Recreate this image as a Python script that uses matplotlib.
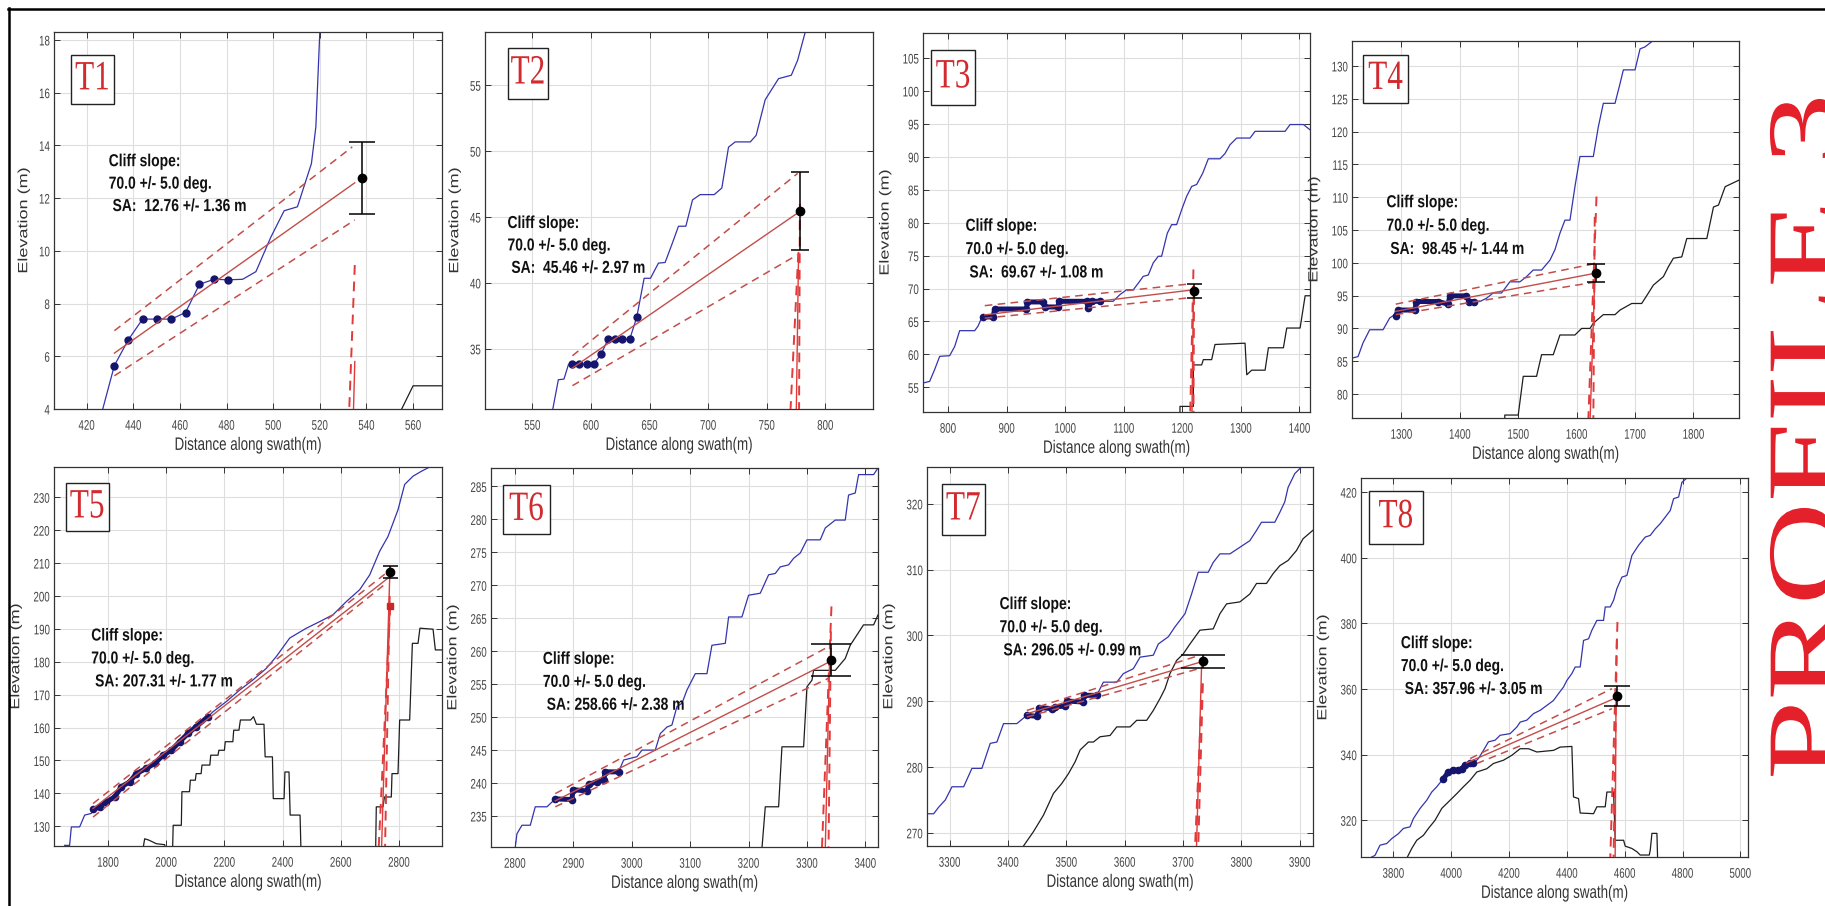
import matplotlib
matplotlib.use('Agg')
import numpy as np
import matplotlib.pyplot as plt
from matplotlib import patheffects
from matplotlib.patches import Rectangle
from matplotlib.lines import Line2D
from matplotlib.transforms import Affine2D

plt.rcParams['font.family'] = ['Liberation Sans', 'DejaVu Sans']

# ---------------- T1 ----------------
t1_blue_x = [426.0, 431.9, 437.9, 444.0, 450.1, 456.3, 462.4, 468.4, 474.6, 480.7, 486.9,
             492.6, 498.9, 504.7, 510.4, 516.4, 518.3, 520.0, 521.0]
t1_blue_y = [3.7, 5.65, 6.63, 7.41, 7.41, 7.41, 7.66, 8.73, 8.92, 8.90, 8.92,
             9.21, 10.50, 11.52, 11.67, 13.31, 14.70, 18.3, 19.5]
t1_black_x = [554.0, 560.0, 575.0]
t1_black_y = [3.8, 4.88, 4.88]
t1_pts_x = [431.9, 437.9, 444.0, 450.1, 456.3, 462.4, 468.4, 474.6, 480.7]
t1_pts_y = [5.65, 6.63, 7.41, 7.41, 7.41, 7.66, 8.73, 8.92, 8.90]
t1_fit_x, t1_fit_y = [431.9, 535.0], [6.12, 12.58]
t1_hi_x, t1_hi_y = [431.9, 533.9], [6.97, 13.94]
t1_lo_x, t1_lo_y = [431.9, 535.0], [5.26, 11.17]
t1_sa_x, t1_sa, t1_sa_err = 537.9, 12.76, 1.36
t1_cliff = [([535.0, 532.4], [9.46, 3.5], '--'), ([535.0, 534.3], [5.8, 3.5], '-')]

# ---------------- T2 ----------------
t2_blue_x = [567.4, 572.2, 577.0, 580.8, 584.2, 590.1, 596.4, 602.4, 608.7, 614.6, 620.9, 626.9,
             633.1, 639.1, 645.4, 650.8, 657.6, 663.3, 669.0, 674.7, 681.0, 686.7, 693.2, 705.2,
             711.7, 717.4, 723.1, 736.0, 741.0, 748.7, 760.1, 771.0, 776.4, 782.9, 785.0]
t2_blue_y = [30.4, 32.65, 32.7, 33.8, 33.84, 33.84, 33.84, 33.84, 34.6, 35.73, 35.73, 35.73,
             35.73, 37.4, 40.35, 40.35, 41.5, 41.55, 42.9, 44.3, 44.3, 46.3, 46.7, 46.7,
             47.2, 50.3, 50.7, 50.7, 51.2, 53.9, 55.5, 55.76, 56.9, 59.04, 60.0]
t2_black_x, t2_black_y = [], []
t2_pts_x = [584.2, 590.1, 596.4, 602.4, 608.7, 614.6, 620.9, 626.9, 633.1, 639.1]
t2_pts_y = [33.84, 33.84, 33.84, 33.84, 34.6, 35.73, 35.73, 35.73, 35.73, 37.4]
t2_fit_x, t2_fit_y = [584.2, 776.0], [33.54, 45.28]
t2_hi_x, t2_hi_y = [584.2, 776.4], [34.47, 48.31]
t2_lo_x, t2_lo_y = [584.2, 776.0], [32.2, 42.12]
t2_sa_x, t2_sa, t2_sa_err = 778.6, 45.46, 2.97
t2_cliff = [([777.0, 770.1], [42.3, 30.0], '--'), ([778.3, 777.6], [46.0, 30.0], '--'),
            ([777.2, 775.2], [42.3, 30.0], '-')]

# ---------------- T3 ----------------
t3_blue_x = [757.3, 768.7, 777.2, 785.8, 802.8, 811.4, 819.9, 845.6, 851.3, 858.7, 859.8, 876.9,
             879.8, 933.9, 935.6, 962.4, 965.2, 988.0, 989.2, 1036.5, 1039.3, 1045.0, 1059.3,
             1082.0, 1093.4, 1104.8, 1116.2, 1124.8, 1133.3, 1141.9, 1150.4, 1159.0, 1164.7,
             1174.4, 1181.8, 1190.3, 1198.9, 1207.4, 1216.0, 1224.5, 1234.8, 1244.4, 1264.4,
             1272.9, 1281.5, 1292.9, 1315.7, 1324.2, 1375.5, 1384.0, 1406.8, 1418.0]
t3_blue_y = [55.65, 55.9, 57.7, 59.7, 59.8, 61.2, 63.6, 63.6, 64.3, 65.8, 65.68, 65.68,
             66.89, 66.89, 67.96, 67.96, 67.2, 67.2, 68.06, 68.06, 67.05, 68.06, 68.06,
             68.06, 69.07, 69.8, 69.8, 70.8, 71.85, 72.05, 73.9, 74.9, 74.9,
             78.4, 79.7, 79.7, 81.97, 84.0, 85.5, 85.8, 87.5, 89.7, 89.7,
             90.5, 91.84, 92.85, 92.85, 93.87, 93.87, 94.9, 94.9, 94.1]
t3_black_x = [1196.0, 1196.0, 1210.3, 1218.8, 1218.8, 1233.0, 1235.9, 1250.1, 1255.8, 1307.1,
              1310.0, 1318.5, 1341.3, 1347.0, 1372.6, 1378.3, 1401.1, 1409.7, 1418.0]
t3_black_y = [51.0, 52.1, 52.1, 52.1, 58.4, 58.4, 59.2, 59.2, 61.5, 61.7,
              56.9, 57.6, 57.6, 61.0, 61.0, 64.0, 64.0, 68.9, 68.9]
t3_pts_x = [859.8, 876.9, 879.8, 933.9, 935.6, 962.4, 965.2, 988.0, 989.2, 1036.5, 1039.3,
            1045.0, 1059.3]
t3_pts_y = [65.68, 65.68, 66.89, 66.89, 67.96, 67.96, 67.2, 67.2, 68.06, 68.06, 67.05,
            68.06, 68.06]
t3_fit_x, t3_fit_y = [862.7, 1218.8], [66.0, 69.8]
t3_hi_x, t3_hi_y = [862.7, 1213.0], [67.4, 70.7]
t3_lo_x, t3_lo_y = [862.7, 1213.0], [65.5, 68.6]
t3_sa_x, t3_sa, t3_sa_err = 1220.5, 69.67, 1.08
t3_cliff = [([1219.0, 1213.5], [72.9, 51.0], '--'), ([1220.0, 1219.0], [69.0, 51.0], '--'),
            ([1219.0, 1216.5], [69.8, 51.0], '-')]

# ---------------- T4 ----------------
t4_blue_x = [1215.4, 1225.7, 1234.3, 1245.7, 1268.6, 1280.0, 1288.6, 1290.3, 1294.3, 1322.9,
             1325.7, 1362.9, 1380.0, 1382.9, 1411.4, 1416.0, 1424.0, 1434.3, 1445.7, 1457.1,
             1471.4, 1485.7, 1502.9, 1514.3, 1525.7, 1540.0, 1554.3, 1562.9, 1571.4, 1580.0,
             1588.6, 1597.1, 1605.7, 1628.6, 1637.1, 1645.7, 1665.7, 1674.3, 1680.0, 1700.0,
             1708.6, 1717.1, 1731.4, 1740.0]
t4_blue_y = [85.48, 85.7, 87.8, 89.8, 89.8, 91.6, 92.1, 91.9, 92.8, 92.8,
             94.1, 94.1, 93.7, 94.96, 94.96, 94.1, 94.1, 94.1, 94.6, 95.4,
             95.4, 97.1, 97.1, 97.9, 98.9, 98.9, 100.4, 102.0, 104.5, 106.5,
             106.5, 111.6, 116.2, 116.2, 120.7, 124.3, 124.3, 127.3, 129.4, 129.4,
             132.6, 132.9, 133.9, 135.0]
t4_black_x = [1477.0, 1477.0, 1500.0, 1508.6, 1531.4, 1540.0, 1560.0, 1571.4, 1597.1, 1608.6,
              1622.9, 1628.6, 1645.7, 1665.7, 1674.3, 1694.3, 1711.4, 1722.9, 1731.4, 1748.6,
              1757.1, 1765.7, 1780.0, 1788.6, 1822.9, 1834.3, 1842.9, 1854.3, 1878.0]
t4_black_y = [76.0, 76.8, 76.8, 82.7, 82.7, 86.0, 86.0, 89.0, 89.0, 90.0,
              90.0, 90.8, 92.1, 92.1, 92.8, 93.8, 93.8, 95.4, 96.6, 97.9,
              99.4, 100.7, 100.9, 103.7, 103.7, 108.5, 108.8, 111.6, 112.6]
t4_pts_x = [1290.3, 1294.3, 1322.9, 1325.7, 1362.9, 1380.0, 1382.9, 1411.4, 1416.0, 1424.0]
t4_pts_y = [91.9, 92.8, 92.8, 94.1, 94.1, 93.7, 94.96, 94.96, 94.1, 94.1]
t4_fit_x, t4_fit_y = [1290.3, 1631.4], [92.6, 98.4]
t4_hi_x, t4_hi_y = [1290.3, 1634.3], [93.7, 99.93]
t4_lo_x, t4_lo_y = [1290.3, 1634.3], [92.1, 97.1]
t4_sa_x, t4_sa, t4_sa_err = 1633.1, 98.45, 1.44
t4_cliff = [([1634.0, 1620.0], [110.1, 76.0], '--'), ([1631.0, 1628.6], [107.0, 76.0], '--'),
            ([1631.4, 1623.0], [98.4, 76.0], '-')]

# ---------------- T5 ----------------
t5_blue_x = [1651.0, 1668.0, 1674.0, 1702.6, 1719.8, 1742.7, 1748.5, 1771.4, 1794.3, 1822.9,
             1845.8, 1874.6, 1897.4, 1931.7, 1960.4, 1989.0, 2017.6, 2046.3, 2074.9, 2103.5,
             2143.6, 2160.8, 2206.6, 2252.5, 2298.3, 2344.1, 2378.5, 2424.3, 2481.6, 2527.5,
             2573.3, 2619.1, 2664.9, 2699.3, 2733.6, 2762.3, 2796.6, 2819.5, 2848.2, 2876.9,
             2905.5]
t5_blue_y = [124.2, 124.2, 129.8, 129.8, 133.4, 133.9, 135.1, 135.9, 137.4, 138.9,
             142.0, 143.5, 146.0, 147.6, 149.1, 151.6, 153.1, 155.7, 158.2, 160.3,
             163.3, 164.8, 167.9, 171.4, 174.5, 178.0, 181.6, 187.2, 190.2, 192.2,
             194.3, 198.3, 201.9, 206.4, 213.6, 218.1, 226.2, 233.9, 236.4, 237.9,
             239.2]
t5_black_x = [1920.0, 1926.0, 1940.0, 1966.1, 1994.7, 1998.0, np.nan,
              2022.0, 2024.0, 2052.0, 2054.0, 2080.0, 2083.0, 2100.0, 2103.0, 2120.0, 2123.0,
              2150.0, 2153.0, 2178.0, 2181.0, 2200.0, 2203.0, 2229.0, 2232.0, 2250.0, 2255.0,
              2290.0, 2300.0, 2310.0, 2336.0, 2340.0, 2365.0, 2368.0, 2405.0, 2408.0, 2422.0,
              2426.0, 2460.0, 2463.0, np.nan,
              2719.8, 2722.0, 2745.0, 2750.0, 2773.6, 2776.0, 2796.6, 2802.3, 2836.7, 2846.0,
              2865.4, 2872.0, 2917.0, 2925.0, 2948.0]
t5_black_y = [123.0, 126.2, 125.8, 124.7, 124.4, 123.0, np.nan,
              123.0, 130.3, 130.3, 140.5, 140.5, 144.0, 144.0, 146.0, 146.0, 148.6,
              148.6, 151.6, 151.6, 153.1, 153.1, 155.7, 155.7, 159.2, 159.2, 162.3,
              162.3, 163.3, 161.0, 161.0, 151.1, 151.1, 138.4, 138.4, 146.5, 146.5,
              133.4, 133.4, 123.0, np.nan,
              123.0, 135.9, 135.9, 138.9, 138.9, 146.0, 146.0, 162.3, 162.3, 185.6,
              185.6, 190.2, 189.9, 183.6, 183.6]
t5_pts_x = [1748.5, 1771.4, 1794.3, 1822.9, 1845.8, 1874.6, 1897.4, 1931.7, 1960.4, 1989.0,
            2017.6, 2046.3, 2074.9, 2103.5, 2143.6]
t5_pts_y = [135.1, 135.9, 137.4, 138.9, 142.0, 143.5, 146.0, 147.6, 149.1, 151.6,
            153.1, 155.7, 158.2, 160.3, 163.3]
t5_fit_x, t5_fit_y = [1748.5, 2762.0], [135.4, 205.4]
t5_hi_x, t5_hi_y = [1748.5, 2756.5], [136.9, 207.0]
t5_lo_x, t5_lo_y = [1748.5, 2756.5], [132.8, 203.9]
t5_sa_x, t5_sa, t5_sa_err = 2770.2, 207.31, 1.77
t5_base_x, t5_base_y = 2770.2, 196.8
t5_cliff = [([2770.0, 2730.0], [197.0, 123.0], '--'), ([2768.0, 2752.0], [200.0, 123.0], '--'),
            ([2768.0, 2740.0], [205.5, 123.0], '-')]

# ---------------- T6 ----------------
t6_blue_x = [2800.6, 2803.4, 2812.0, 2826.3, 2834.8, 2854.8, 2869.1, 2897.6, 2899.3, 2923.3,
             2926.1, 2940.4, 2951.8, 2954.7, 2977.5, 2986.1, 3008.9, 3017.5, 3040.3, 3048.9,
             3060.3, 3068.8, 3077.4, 3086.0, 3094.5, 3108.8, 3128.8, 3137.3, 3160.2, 3165.9,
             3188.7, 3200.1, 3220.1, 3234.4, 3245.8, 3254.3, 3268.6, 3277.2, 3288.6, 3300.0,
             3322.8, 3331.4, 3348.5, 3365.6, 3371.3, 3382.7, 3388.5, 3414.2, 3421.7]
t6_blue_y = [230.3, 232.3, 233.6, 233.6, 236.4, 236.4, 237.6, 237.5, 239.0, 238.8,
             239.8, 240.2, 240.4, 241.7, 241.7, 243.5, 244.0, 245.0, 245.0, 247.5,
             248.5, 248.8, 251.6, 252.1, 254.1, 256.6, 256.6, 260.9, 261.2, 265.2,
             265.2, 268.5, 268.8, 271.6, 271.8, 272.8, 273.1, 274.1, 274.9, 276.9,
             276.9, 278.7, 279.9, 279.9, 283.7, 284.0, 286.8, 286.8, 287.8]
t6_black_x = [3222.9, 3228.7, 3251.5, 3257.2, 3294.3, 3300.0, 3308.6, 3311.4, 3348.5, 3365.6,
              3374.1, 3396.9, 3414.2, 3421.7]
t6_black_y = [230.0, 236.4, 236.4, 245.5, 245.5, 254.6, 255.6, 257.1, 257.1, 258.9,
              260.9, 264.0, 264.0, 265.5]
t6_pts_x = [2869.1, 2897.6, 2899.3, 2923.3, 2926.1, 2940.4, 2951.8, 2954.7, 2977.5]
t6_pts_y = [237.6, 237.5, 239.0, 238.8, 239.8, 240.2, 240.4, 241.7, 241.7]
t6_fit_x, t6_fit_y = [2869.1, 3338.8], [237.3, 258.4]
t6_hi_x, t6_hi_y = [2869.1, 3337.1], [238.4, 260.7]
t6_lo_x, t6_lo_y = [2869.1, 3337.1], [236.4, 255.9]
t6_sa_x, t6_sa, t6_sa_err = 3341.1, 258.66, 2.38
t6_cliff = [([3342.0, 3325.7], [266.8, 230.0], '--'), ([3341.0, 3337.0], [263.0, 230.0], '--'),
            ([3338.8, 3331.4], [258.4, 230.0], '-')]

# ---------------- T7 ----------------
t7_blue_x = [3261.2, 3272.6, 3281.2, 3292.6, 3304.0, 3324.0, 3338.2, 3355.3, 3369.6, 3381.0,
             3392.4, 3415.2, 3432.3, 3449.5, 3453.4, 3475.1, 3480.8, 3497.9, 3500.8, 3528.2,
             3530.5, 3552.1, 3563.5, 3586.4, 3597.8, 3614.9, 3626.4, 3649.1, 3657.7, 3674.8,
             3686.2, 3703.4, 3714.7, 3726.1, 3743.2, 3751.8, 3763.3, 3780.4, 3797.5, 3814.5,
             3825.9, 3834.5, 3857.3, 3865.9, 3874.4, 3880.1, 3891.6, 3903.0, 3910.0]
t7_blue_y = [272.9, 272.9, 273.9, 275.0, 277.0, 277.0, 279.8, 279.8, 283.6, 283.8,
             286.6, 286.6, 287.86, 287.71, 289.03, 288.88, 289.13, 289.28, 290.04, 289.88,
             290.9, 290.9, 292.9, 292.9, 294.2, 294.95, 296.7, 297.0, 298.7, 299.8,
             301.3, 303.3, 306.3, 309.6, 309.6, 311.1, 312.4, 312.4, 313.4, 314.4,
             315.95, 317.2, 317.2, 318.7, 320.3, 322.5, 324.6, 325.6, 326.5]
t7_black_x = [3426.6, 3443.8, 3460.9, 3478.0, 3492.2, 3503.7, 3515.1, 3523.7, 3537.9, 3546.4,
              3557.8, 3575.0, 3586.4, 3609.2, 3620.6, 3637.7, 3649.1, 3660.5, 3669.1, 3677.6,
              3689.0, 3700.5, 3711.9, 3729.0, 3751.8, 3763.3, 3774.7, 3797.5, 3814.6, 3826.0,
              3843.1, 3854.5, 3865.9, 3880.1, 3894.4, 3905.8, 3922.9]
t7_black_y = [268.0, 270.2, 272.7, 276.0, 277.5, 279.0, 280.8, 282.6, 283.8, 283.8,
              284.6, 284.8, 286.1, 286.1, 287.1, 287.1, 288.6, 290.4, 291.9, 294.2,
              296.2, 297.2, 298.7, 300.8, 301.0, 303.3, 304.8, 305.1, 306.3, 307.9,
              307.9, 309.4, 310.6, 311.4, 312.9, 314.7, 316.0]
t7_pts_x = [3432.3, 3449.5, 3453.4, 3475.1, 3480.8, 3497.9, 3500.8, 3528.2, 3530.5, 3552.1]
t7_pts_y = [287.86, 287.71, 289.03, 288.88, 289.13, 289.28, 290.04, 289.88, 290.9, 290.9]
t7_fit_x, t7_fit_y = [3432.3, 3731.8], [288.1, 296.0]
t7_hi_x, t7_hi_y = [3432.3, 3729.0], [288.6, 297.0]
t7_lo_x, t7_lo_y = [3432.3, 3729.0], [287.6, 295.0]
t7_sa_x, t7_sa, t7_sa_err = 3734.7, 296.05, 0.99
t7_cliff = [([3733.0, 3720.4], [292.7, 267.5], '--'), ([3734.0, 3726.0], [292.7, 267.5], '--'),
            ([3732.0, 3723.0], [296.0, 267.5], '-')]

# ---------------- T8 ----------------
t8_blue_x = [3725.0, 3736.5, 3753.8, 3776.9, 3794.2, 3817.3, 3834.6, 3857.7, 3869.2, 3892.3,
             3915.4, 3932.7, 3950.0, 3973.1, 3990.4, 4007.7, 4025.0, 4036.5, 4048.1, 4065.4,
             4076.9, 4094.2, 4111.5, 4128.8, 4151.9, 4169.2, 4203.8, 4226.9, 4238.4, 4261.5,
             4284.6, 4307.7, 4330.8, 4353.8, 4371.1, 4388.4, 4400.0, 4417.3, 4428.8, 4446.1,
             4457.7, 4475.0, 4486.5, 4503.8, 4526.9, 4532.7, 4550.0, 4561.5, 4573.0, 4590.4,
             4607.7, 4625.0, 4648.1, 4671.1, 4688.4, 4705.8, 4723.1, 4740.4, 4757.7, 4769.2,
             4786.5, 4798.0, 4815.4]
t8_blue_y = [308.8, 309.3, 312.4, 312.9, 314.4, 315.9, 317.5, 318.0, 320.5, 323.6,
             326.1, 328.6, 330.2, 332.7, 334.7, 335.2, 335.2, 335.7, 336.8, 337.3,
             337.3, 338.8, 341.3, 343.9, 344.4, 345.9, 346.4, 348.4, 349.9, 350.5,
             352.5, 353.5, 355.0, 356.5, 358.6, 360.6, 362.6, 364.7, 366.7, 366.7,
             374.8, 375.3, 377.9, 380.9, 380.9, 385.0, 385.0, 387.0, 390.6, 394.1,
             394.6, 400.7, 403.8, 406.3, 406.8, 408.8, 410.4, 412.4, 414.4, 418.0,
             418.5, 423.0, 424.3]
t8_black_x = [3848.5, 3863.5, 3880.8, 3903.8, 3921.2, 3944.2, 3967.3, 3996.2, 4019.2, 4042.3,
              4065.4, 4088.5, 4123.0, 4146.1, 4180.8, 4209.7, 4238.5, 4267.3, 4296.2, 4353.8,
              4376.9, 4417.3, 4423.0, 4440.4, 4446.1, 4492.3, 4503.8, 4532.7, 4538.5, 4561.5,
              4567.3, 4596.2, 4601.9, 4625.0, 4642.3, 4653.8, 4685.0, 4688.4, 4694.2, 4711.5,
              4713.8]
t8_black_y = [308.8, 311.4, 313.9, 315.4, 317.5, 320.0, 323.6, 326.1, 328.1, 330.2,
              332.2, 334.7, 335.7, 337.3, 338.3, 339.8, 341.8, 341.8, 340.8, 341.3,
              342.3, 342.5, 327.1, 326.6, 322.2, 322.0, 324.1, 324.1, 328.6, 328.6,
              313.9, 313.9, 312.1, 311.4, 310.4, 309.4, 309.4, 310.9, 316.0, 316.0,
              308.5]
t8_pts_x = [3973.1, 3990.4, 4007.7, 4025.0, 4036.5, 4048.1, 4065.4, 4076.9]
t8_pts_y = [332.7, 334.7, 335.2, 335.2, 335.7, 336.8, 337.3, 337.3]
t8_fit_x, t8_fit_y = [4053.8, 4561.5], [337.5, 357.0]
t8_hi_x, t8_hi_y = [4065.4, 4555.8], [338.8, 360.1]
t8_lo_x, t8_lo_y = [4088.5, 4555.8], [337.3, 354.0]
t8_sa_x, t8_sa, t8_sa_err = 4573.0, 357.96, 3.05
t8_cliff = [([4575.0, 4550.0], [380.4, 308.0], '--'), ([4573.0, 4561.5], [375.0, 308.0], '--'),
            ([4570.0, 4567.0], [357.0, 308.0], '-')]

# axis ranges and ticks
xlims = [(406, 572.4), (509.6, 840.7), (757.3, 1418), (1215.4, 1878), (1614.4, 2947.8),
         (2759, 3421.7), (3261.2, 3922.8), (3688, 5026.5)]
ylims = [(4, 18.3), (30.43, 59.04), (51.25, 108.8), (76.35, 133.8), (124, 239.2),
         (230.3, 287.8), (268, 325.6), (308.8, 424.3)]
xticks = [range(420, 561, 20), range(550, 801, 50), range(800, 1401, 100), range(1300, 1801, 100),
          range(1800, 2801, 200), range(2800, 3401, 100), range(3300, 3901, 100),
          range(3800, 5001, 200)]
yticks = [range(4, 19, 2), range(35, 56, 5), range(55, 106, 5), range(80, 131, 5),
          range(130, 231, 10), range(235, 286, 5), range(270, 321, 10), range(320, 421, 20)]
names = ['T1', 'T2', 'T3', 'T4', 'T5', 'T6', 'T7', 'T8']

# ---------------- layout (pixels / axes fractions) ----------------
W, H = 1825, 906
axes_px = [(54, 32, 442, 409), (485, 32, 873, 409), (923, 33, 1310, 412), (1352, 41, 1739, 418),
           (54, 467, 442, 846), (491, 468, 878, 847), (927, 467, 1313, 846), (1361, 478, 1748, 857)]
tag_box = [(0.043, 0.81, 0.155, 0.94), (0.058, 0.823, 0.163, 0.958), (0.020, 0.811, 0.135, 0.956),
           (0.028, 0.836, 0.145, 0.964), (0.030, 0.830, 0.141, 0.958), (0.030, 0.826, 0.153, 0.954),
           (0.039, 0.821, 0.149, 0.956), (0.021, 0.827, 0.159, 0.967)]
note_pos = [(0.141, 0.656, 0.537), (0.058, 0.492, 0.373), (0.110, 0.490, 0.367),
            (0.089, 0.571, 0.447), (0.096, 0.554, 0.433), (0.134, 0.495, 0.374),
            (0.188, 0.637, 0.515), (0.103, 0.563, 0.442)]
cap_px = [13, 9, 7.5, 9, 7.5, 20, 22, 13]
dense = [False, False, True, True, True, True, True, True]

BLUE = '#3434ae'
NAVY = '#15156e'
FITRED = '#c24e4a'
CLIFFRED = '#e03a3a'


class Squeeze(patheffects.AbstractPathEffect):
    """Scale glyph outlines about the text anchor (narrow print look)."""

    def __init__(self, txt, sx, sy=1.0):
        super().__init__()
        self.txt, self.sx, self.sy = txt, sx, sy

    def draw_path(self, renderer, gc, tpath, affine, rgbFace=None):
        cx, cy = self.txt.get_transform().transform(self.txt.get_unitless_position())
        tr = affine + Affine2D().translate(-cx, -cy).scale(self.sx, self.sy).translate(cx, cy)
        renderer.draw_path(gc, tpath, tr, rgbFace)


def squeeze(txt, sx, sy=1.0):
    txt.set_path_effects([Squeeze(txt, sx, sy)])
    return txt


g = globals()
fig = plt.figure(figsize=(W / 100, H / 100), dpi=100)
axes = []
for i, name in enumerate(names):
    k = name.lower()
    l, t, r, b = axes_px[i]
    ax = fig.add_axes([l / W, 1 - b / H, (r - l) / W, (b - t) / H])
    axes.append(ax)

    ax.plot(g[k + '_blue_x'], g[k + '_blue_y'], color=BLUE, lw=0.9, zorder=2)
    if len(g[k + '_black_x']):
        ax.plot(g[k + '_black_x'], g[k + '_black_y'], color='#1e1e1e', lw=0.9, zorder=2)
    if dense[i]:
        ax.plot(g[k + '_pts_x'], g[k + '_pts_y'], color=NAVY, lw=3.6, marker='o', ms=4.5,
                solid_capstyle='round', zorder=3)
    else:
        ax.plot(g[k + '_pts_x'], g[k + '_pts_y'], 'o', color=NAVY, ms=5, zorder=3)

    ax.plot(g[k + '_fit_x'], g[k + '_fit_y'], color=FITRED, lw=1.0, zorder=4)
    for s in ('_hi', '_lo'):
        ax.plot(g[k + s + '_x'], g[k + s + '_y'], color=FITRED, lw=1.1, dashes=(5, 3.5), zorder=4)
    for cx, cy, ls in g[k + '_cliff']:
        if ls == '-':
            ax.plot(cx, cy, color=CLIFFRED, lw=1.0, zorder=4)
        else:
            ax.plot(cx, cy, color=CLIFFRED, lw=1.4, dashes=(5, 3.5), zorder=4)
    if name == 'T5':
        ax.plot([t5_base_x], [t5_base_y], 's', color='#cc2626', ms=4.5, zorder=5)

    sa, err = g[k + '_sa'], g[k + '_sa_err']
    ax.errorbar([g[k + '_sa_x']], [sa], yerr=[err], fmt='o', color='black', ms=6,
                elinewidth=1.1, capthick=1.1, capsize=cap_px[i] * 0.72, zorder=6)

    ax.set_xlim(*xlims[i])
    ax.set_ylim(*ylims[i])
    ax.set_xticks(list(xticks[i]))
    ax.set_yticks(list(yticks[i]))
    ax.grid(True, color='#dedede', lw=0.8)
    ax.set_axisbelow(True)
    for sp in ax.spines.values():
        sp.set_color('#333333')
        sp.set_linewidth(0.9)
    ax.tick_params(direction='in', length=4, width=0.7, color='#333333', top=True, right=True,
                   labelsize=10, labelcolor='#444444')
    ax.tick_params(axis='x', pad=7)
    ax.tick_params(axis='y', pad=3)
    ax.set_xlabel('Distance along swath(m)', fontsize=13, color='#333333', labelpad=3)
    ax.set_ylabel('Elevation (m)', fontsize=13, color='#333333', labelpad=3)

    # panel tag
    bl, bb, br, bt = tag_box[i]
    ax.add_patch(Rectangle((bl, bb), br - bl, bt - bb, transform=ax.transAxes, facecolor='white',
                           edgecolor='#222222', lw=1.0, zorder=7))
    squeeze(ax.text((bl + br) / 2, (bb + bt) / 2, name, transform=ax.transAxes, ha='center',
                    va='center', fontsize=30, family='Liberation Serif', color='#d22a2e',
                    zorder=8), 0.75)

    # cliff-slope note
    nx, ny1, ny3 = note_pos[i]
    lines = ['Cliff slope:', '70.0 +/- 5.0 deg.', f' SA: {sa:6.2f} +/- {err:.2f} m']
    for j, line in enumerate(lines):
        yy = ny1 + (ny3 - ny1) * j / 2
        squeeze(ax.text(nx, yy, line, transform=ax.transAxes, ha='left', va='center',
                        fontsize=12.5, fontweight='bold', color='#111111', zorder=8), 0.8)

# narrow look for the axis text
fig.canvas.draw()
for ax in axes:
    for lab in ax.get_xticklabels() + ax.get_yticklabels():
        squeeze(lab, 0.7)
    squeeze(ax.xaxis.label, 0.74)
    squeeze(ax.yaxis.label, 0.74)

# side title
squeeze(fig.text(1838 / W, 126 / H, 'PROFILE 3', rotation=90, rotation_mode='anchor',
                 ha='left', va='baseline', fontsize=74, family='Liberation Serif',
                 color='#e4202a'), 1.0, 1.39)

# page frame
fig.add_artist(Line2D([8 / W, 1], [1 - 8.5 / H, 1 - 8.5 / H], color='black', lw=1.8))
fig.add_artist(Line2D([8.5 / W, 8.5 / W], [0, 1 - 8 / H], color='black', lw=1.8))

fig.savefig('out.png', dpi=100)
